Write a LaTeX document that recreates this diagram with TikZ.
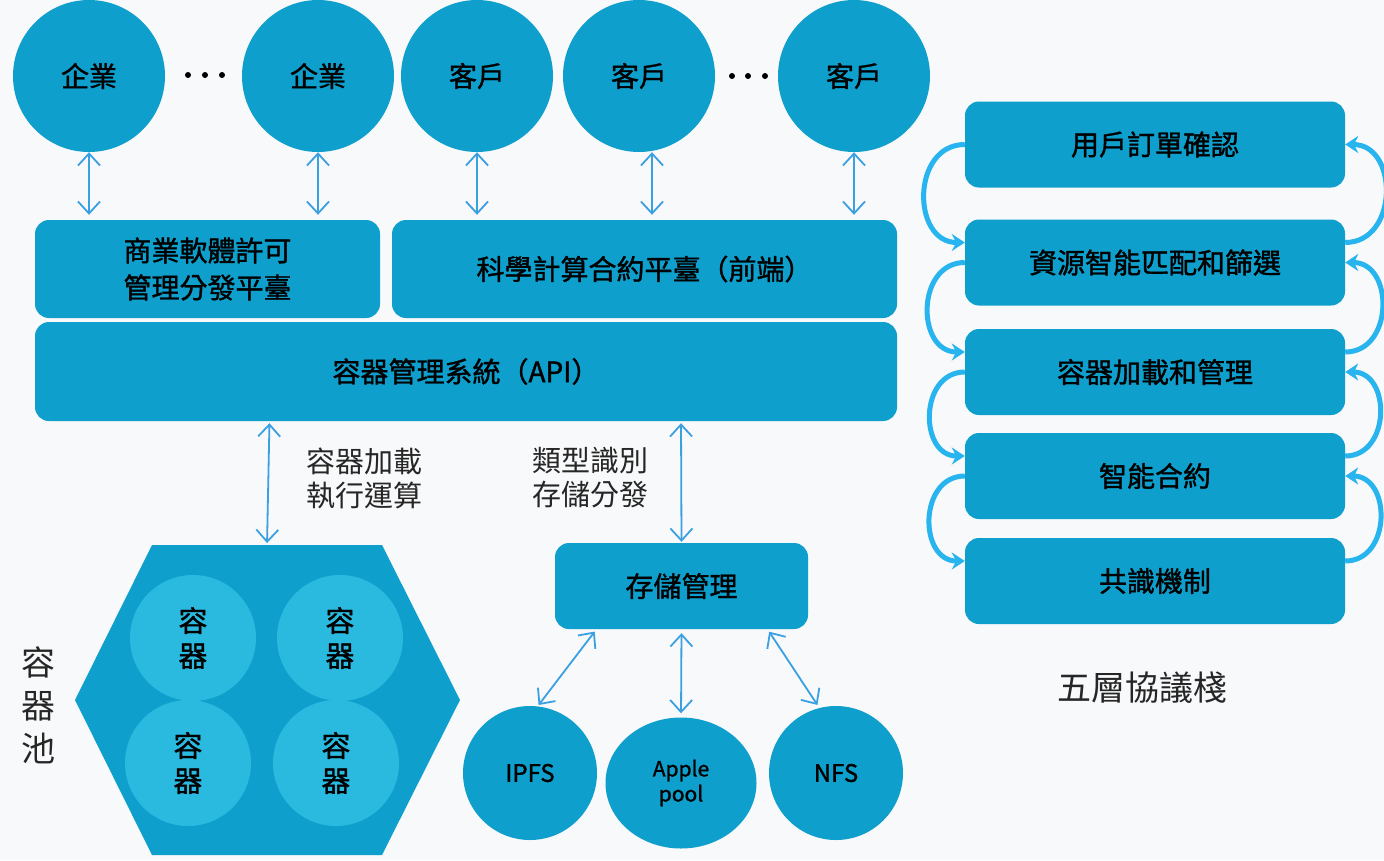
\documentclass[tikz,border=0pt]{standalone}
\usepackage{fontspec}
\setmainfont{Noto Sans CJK TC}
\newfontfamily\heavy[FakeBold=1.3]{Noto Sans CJK TC}
\usetikzlibrary{arrows.meta,shapes.geometric}

\definecolor{boxblue}{RGB}{14,159,204}
\definecolor{poolblue}{RGB}{42,186,224}
\definecolor{linkblue}{RGB}{58,160,226}
\definecolor{loopblue}{RGB}{40,180,238}
\definecolor{paper}{RGB}{248,249,250}

\begin{document}
\begin{tikzpicture}[x=1pt,y=-1pt,
txt/.style={
font=\heavy\fontsize{28}{37}\selectfont,
},
user/.style={%
circle,
fill=boxblue,
minimum size=152pt,
inner sep=0pt,
txt
},
plat/.style={%
rounded corners=14pt,
fill=boxblue,
inner sep=0pt,
align=center,
txt
},
cont/.style={%
circle,
fill=poolblue,
minimum size=126pt,
inner sep=0pt,
align=center,
font=\heavy\fontsize{29}{35}\selectfont
},
store/.style={%
fill=boxblue,
inner sep=0pt,
align=center,
font=\heavy\fontsize{24}{25}\selectfont
},
layer/.style={%
rounded corners=14pt,
fill=boxblue,
minimum width=380pt,
minimum height=86pt,
txt
},
link/.style={
{Straight Barb[length=12pt,width=22pt]}-{Straight Barb[length=12pt,width=22pt]},
linkblue,
line width=1.8pt
},
loop/.style={
-{Stealth[length=13pt,width=17pt]},
loopblue,
line width=5pt
},
capt/.style={
text=black!85,
align=center,
font=\fontsize{29}{34}\selectfont
}
]

\useasboundingbox(0,0)rectangle(1384,860);
\fill[paper](0,0)rectangle(1384,860);

%users
\node[user](c1)at(89,76){企業};
\node[user](c2)at(318,76){企業};
\node[user](k1)at(477,76){客戶};
\node[user](k2)at(639,76){客戶};
\node[user](k3)at(854,76){客戶};
\fill(188,75)circle(3pt)(205,75)circle(3pt)(222,75)circle(3pt);
\fill(732,76)circle(3pt)(748,76)circle(3pt)(765,76)circle(3pt);

%platforms
\node[plat,minimum width=345pt,minimum height=98pt](biz)at(207.5,269){商業軟體許可\\管理分發平臺};
\node[plat,minimum width=505pt,minimum height=98pt](sci)at(644.5,269){科學計算合約平臺（前端）};
\node[plat,minimum width=862pt,minimum height=99pt](api)at(466,371.5){容器管理系統（API）};

\coordinate(k2b)at([xshift=13pt]k2.south);
\draw[link,shorten >=5pt](c1.south)--(c1.south|-biz.north);
\draw[link,shorten >=5pt](c2.south)--(c2.south|-biz.north);
\draw[link,shorten >=5pt](k1.south)--(k1.south|-sci.north);
\draw[link,shorten >=5pt](k2b)--(k2b|-sci.north);
\draw[link,shorten >=5pt](k3.south)--(k3.south|-sci.north);

%container pool
\fill[boxblue](152,545)--(382,545)--(460,700)--(382,855)--(152,855)--(75,700)--cycle;
\coordinate(pool)at(267,545);
\node[cont](p1)at(193,638){容\\器};
\node[cont](p2)at(340,638){容\\器};
\node[cont](p3)at(188,763){容\\器};
\node[cont](p4)at(336,763){容\\器};
\node[capt,font=\fontsize{34}{43}\selectfont](pooltxt)at(38,705){容\\器\\池};

%storage
\node[plat,minimum width=253pt,minimum height=86pt](sto)at(681.5,586){存儲管理};
\node[store,circle,minimum size=134pt](ipfs)at(530,773){IPFS};
\node[store,ellipse,minimum width=151pt,minimum height=131pt,font=\heavy\fontsize{21}{25}\selectfont](apple)at(681,783){Apple\\pool};
\node[store,circle,minimum size=134pt](nfs)at(836,773){NFS};

\draw[link,shorten <=2pt,shorten >=2pt]([xshift=2.5pt]api.south-|pool)--(pool);
\draw[link,shorten <=2pt,shorten >=1pt]([xshift=-0.5pt]api.south-|sto.north)--(sto.north);
\draw[link,shorten <=3pt,shorten >=1pt]([xshift=-85pt]sto.south)--([xshift=8pt]ipfs.north);
\draw[link,shorten <=4pt,shorten >=4pt](sto.south)--(apple.north);
\draw[link,shorten <=3pt,shorten >=1pt]([xshift=86pt]sto.south)--([xshift=-18pt]nfs.north);

\node[capt](load)at(364,478){容器加載\\執行運算};
\node[capt](kind)at(590,478){類型識別\\存儲分發};

%five layer stack
\node[layer](l1)at(1155,144.5){用戶訂單確認};
\node[layer](l2)at(1155,262.5){資源智能匹配和篩選};
\node[layer](l3)at(1155,372){容器加載和管理};
\node[layer](l4)at(1155,476){智能合約};
\node[layer](l5)at(1155,581){共識機制};

\draw[loop](l1.west)to[out=180,in=180,looseness=1.4]([yshift=20pt]l2.west);
\draw[loop](l2.west)to[out=180,in=180,looseness=1.4]([yshift=20pt]l3.west);
\draw[loop](l3.west)to[out=180,in=180,looseness=1.4]([yshift=20pt]l4.west);
\draw[loop](l4.west)to[out=180,in=180,looseness=1.4]([yshift=20pt]l5.west);
\draw[loop]([yshift=20pt]l2.east)to[out=0,in=0,looseness=1.4](l1.east);
\draw[loop]([yshift=20pt]l3.east)to[out=0,in=0,looseness=1.4](l2.east);
\draw[loop]([yshift=20pt]l4.east)to[out=0,in=0,looseness=1.4](l3.east);
\draw[loop]([yshift=20pt]l5.east)to[out=0,in=0,looseness=1.4](l4.east);

\node[capt,font=\fontsize{34}{40}\selectfont](stack)at(1142,688){五層協議棧};

\end{tikzpicture}
\end{document}
